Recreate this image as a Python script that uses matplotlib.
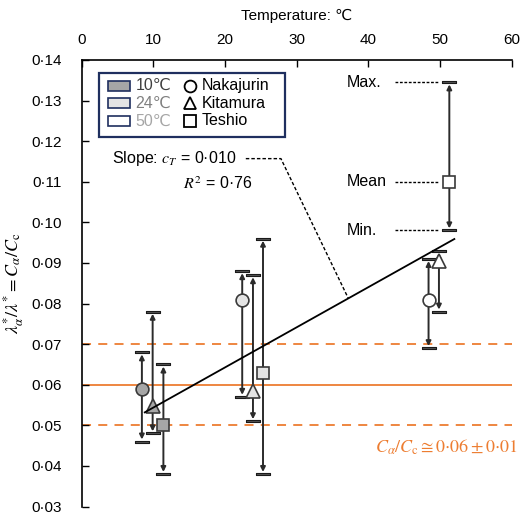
import matplotlib
matplotlib.use("Agg")
import matplotlib.pyplot as plt
from matplotlib.ticker import FuncFormatter, MultipleLocator
from matplotlib.patches import Rectangle

plt.rcParams['font.family'] = ['Liberation Sans', 'DejaVu Sans']
plt.rcParams['mathtext.fontset'] = 'stix'

# ---- data ----
temps = ['10℃', '24℃', '50℃']
sites = ['Nakajurin', 'Kitamura', 'Teshio']
# plotted x positions (temperature, slightly offset per site)
x_nak = [8.4, 22.4, 48.4]
x_kit = [9.9, 23.9, 49.85]
x_tes = [11.4, 25.3, 51.3]
mean_nak = [0.059, 0.081, 0.081]
max_nak = [0.068, 0.088, 0.091]
min_nak = [0.046, 0.057, 0.069]
mean_kit = [0.0548, 0.0585, 0.0905]
max_kit = [0.078, 0.087, 0.093]
min_kit = [0.048, 0.051, 0.078]
mean_tes = [0.050, 0.063, 0.110]
max_tes = [0.065, 0.096, 0.1345]
min_tes = [0.038, 0.038, 0.098]
# regression line
fit_x = [8.8, 52.0]
fit_y = [0.0532, 0.0959]
slope_text = '0·010'
r2_text = '0·76'
band_center = 0.06
band_half = 0.01

fills = ['#a6a6a6', '#e4e4e4', '#ffffff']
text_cols = ['#404040', '#808080', '#a6a6a6']
orange = '#ED7D31'
dark = '#2b2b2b'
FS = 11.5

fig = plt.figure(figsize=(5.2, 5.14), dpi=100)
ax = fig.add_axes([0.1571, 0.0145, 0.8269, 0.8688])
ax.set_xlim(0, 60)
ax.set_ylim(0.03, 0.14)

for s in ['right', 'bottom']:
    ax.spines[s].set_visible(False)
for s in ['left', 'top']:
    ax.spines[s].set_linewidth(1.2)
ax.xaxis.set_ticks_position('top')
ax.xaxis.set_label_position('top')
ax.xaxis.set_major_locator(MultipleLocator(10))
ax.yaxis.set_major_locator(MultipleLocator(0.01))
ax.yaxis.set_major_formatter(FuncFormatter(lambda v, p: f"{v:.2f}".replace('.', '·')))
ax.tick_params(axis='y', direction='in', length=5, width=1, pad=14, labelsize=11)
ax.tick_params(axis='x', direction='in', length=5, width=1, pad=9, labelsize=11)
ax.set_xlabel('Temperature: ℃', fontsize=11, labelpad=10)
ax.set_ylabel(r'$\lambda^{*}_{\alpha}/\lambda^{*} = C_{\alpha}/C_{\mathrm{c}}$', fontsize=13, labelpad=4)

# orange band lines
ax.axhline(band_center, color=orange, lw=1.3, zorder=1)
ax.axhline(band_center + band_half, color=orange, lw=1.3, ls=(0, (5, 4)), zorder=1)
ax.axhline(band_center - band_half, color=orange, lw=1.3, ls=(0, (5, 4)), zorder=1)

cap_marker = [(-2, -0.45), (2, -0.45), (2, 0.45), (-2, 0.45), (-2, -0.45)]

def draw_series(xs, means, maxs, mins, marker, ms):
    for i, (x, m, hi, lo) in enumerate(zip(xs, means, maxs, mins)):
        for end in (hi, lo):
            ax.annotate('', xy=(x, end), xytext=(x, m),
                        arrowprops=dict(arrowstyle='-|>', color=dark, lw=1.4,
                                        shrinkA=0, shrinkB=1.5, mutation_scale=7),
                        zorder=3)
        ax.plot([x, x], [hi, lo], ls='none', marker=cap_marker, ms=9.5,
                mfc='#555555', mec='#1a1a1a', mew=0.8, zorder=4)
        ax.plot([x], [m], ls='none', marker=marker, ms=ms, mfc=fills[i],
                mec='#3a3a3a', mew=1.2, zorder=5)

draw_series(x_nak, mean_nak, max_nak, min_nak, 'o', 9.2)
draw_series(x_kit, mean_kit, max_kit, min_kit, '^', 10)
draw_series(x_tes, mean_tes, max_tes, min_tes, 's', 8.2)

# regression line
ax.plot(fit_x, fit_y, color='black', lw=1.3, zorder=6)

# slope annotation
ax.text(4.2, 0.1157, 'Slope: $c_T$ = ' + slope_text, fontsize=FS, va='center', ha='left')
ax.text(14.1, 0.1095, '$R^2$ = ' + r2_text, fontsize=FS, va='center', ha='left')
ax.plot([22.9, 27.8, 37.2], [0.1157, 0.1157, 0.0813], color='black', lw=1,
        ls=(0, (2.5, 1.5)), zorder=6)

# max / mean / min annotation for Teshio 50
for lab, yv in zip(['Max.', 'Mean', 'Min.'], [max_tes[2], mean_tes[2], min_tes[2]]):
    ax.text(37.0, yv, lab, fontsize=FS, va='center', ha='left')
    ax.plot([43.7, 49.7], [yv, yv], color='black', lw=1, ls=(0, (2, 1.2)), zorder=2)

# orange relation text
ax.text(40.9, 0.0445,
        r'$C_{\alpha}/C_{\mathrm{c}} \cong 0{\cdot}06 \pm 0{\cdot}01$',
        color=orange, fontsize=13, va='center', ha='left')

# custom legend box
T = ax.transAxes
navy = '#1F2F5F'
ax.add_patch(Rectangle((0.041, 0.827), 0.432, 0.1446, transform=T, fill=False,
                       ec=navy, lw=1.6, zorder=7))
rows = [0.9425, 0.903, 0.8634]
for i, ry in enumerate(rows):
    ax.add_patch(Rectangle((0.061, ry - 0.011), 0.051, 0.022, transform=T,
                           fc=fills[i], ec=navy, lw=1.2, zorder=8))
    ax.text(0.1256, ry, temps[i], transform=T, fontsize=FS, va='center',
            ha='left', color=text_cols[i], zorder=8)
for i, (ry, mk, ms) in enumerate(zip(rows, ['o', '^', 's'], [8.5, 9, 8])):
    ax.plot([0.252], [ry], transform=T, marker=mk, ms=ms, mfc='white',
            mec='black', mew=1.3, ls='none', zorder=8, clip_on=False)
    ax.text(0.279, ry, sites[i], transform=T, fontsize=FS, va='center',
            ha='left', zorder=8)

fig.savefig('out.png', dpi=100)
